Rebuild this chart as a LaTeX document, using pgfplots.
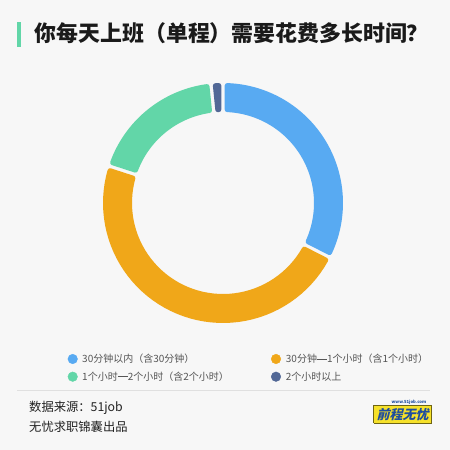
\documentclass[border=0pt]{standalone}
\usepackage{fontspec}
\setmainfont{Noto Sans CJK SC}
\newfontfamily\logofont{Noto Sans CJK SC}[FakeSlant=0.25]
\usepackage{pgfplots}
\pgfplotsset{compat=1.18}
\definecolor{bg}{HTML}{F7F7F7}
\definecolor{segA}{HTML}{58AAF2}
\definecolor{segB}{HTML}{F0A719}
\definecolor{segC}{HTML}{62D6A8}
\definecolor{segD}{HTML}{526896}
\definecolor{titlec}{HTML}{1A1A1A}
\definecolor{legc}{HTML}{555555}
\definecolor{footc}{HTML}{222222}
\definecolor{logoy}{HTML}{F6E12A}
\definecolor{logob}{HTML}{1F4E9E}
\newcommand\cjkdash{\makebox[1em][c]{\rule[0.33em]{0.98em}{0.07em}}}
% shares (percent)
\def\vA{32.5}
\def\vB{47.5}
\def\vC{18.4}
\def\vD{1.6}
\pgfmathsetmacro{\aA}{0}
\pgfmathsetmacro{\aB}{3.6*\vA}
\pgfmathsetmacro{\aC}{3.6*(\vA+\vB)}
\pgfmathsetmacro{\aD}{3.6*(\vA+\vB+\vC)}
\pgfmathsetmacro{\aE}{3.6*(\vA+\vB+\vC+\vD)}
\pgfplotsset{/pgf/declare function={
  segr(\t)=ifthenelse(and(\t>50,\t<102),93.5,117.5);
  segth(\t,\a,\b)=ifthenelse(\t>101,\a+2.05,ifthenelse(\t<=50,\a+2.05+(\b-\a-4.1)*\t/50,\b-2.57-(\b-\a-5.14)*(\t-51)/50));
}}
\newcommand\donutseg[3]{%
  \addplot[fill=#3,draw=#3,line width=5pt,line join=round,line cap=round,samples at={0,...,102}]
   ({223+segr(x)*sin(segth(x,#1,#2))},{247+segr(x)*cos(segth(x,#1,#2))});
}
\begin{document}
\begin{tikzpicture}
\begin{axis}[
  width=450pt,height=450pt,scale only axis,
  xmin=0,xmax=450,ymin=0,ymax=450,
  hide axis,clip=false,
]
\addplot[fill=bg,draw=none] coordinates {(0,0)(450,0)(450,450)(0,450)};
% donut
\donutseg{\aA}{\aB}{segA}
\donutseg{\aB}{\aC}{segB}
\donutseg{\aC}{\aD}{segC}
\donutseg{\aD}{\aE}{segD}
% title bar
\addplot[fill=segC,draw=none] coordinates {(17,403)(20.5,403)(20.5,428)(17,428)};
\node[anchor=base west,inner sep=0pt,text=titlec] at (axis cs:34.5,408.2)
  {\fontsize{21.9}{21.9}\selectfont\bfseries 你每天上班（单程）需要花费多长时间？};
% legend
\addplot[only marks,mark=*,mark size=4.8pt,color=segA] coordinates {(72.7,91)};
\addplot[only marks,mark=*,mark size=4.8pt,color=segB] coordinates {(276,91)};
\addplot[only marks,mark=*,mark size=4.8pt,color=segC] coordinates {(72.7,73.3)};
\addplot[only marks,mark=*,mark size=4.8pt,color=segD] coordinates {(276,73.3)};
\begin{scope}[every node/.style={anchor=base west,inner sep=0pt,text=legc,font=\fontsize{10}{10}\selectfont}]
\node at (axis cs:82,87.4) {30分钟以内（含30分钟）};
\node at (axis cs:285.7,87.4) {30分钟\cjkdash 1个小时（含1个小时）};
\node at (axis cs:82,69.7) {1个小时\cjkdash 2个小时（含2个小时）};
\node at (axis cs:285.7,69.7) {2个小时以上};
\end{scope}
% divider
\addplot[draw=black!12,line width=1pt] coordinates {(17,59.3)(430,59.3)};
% footer
\node[anchor=base west,inner sep=0pt,text=footc,font=\fontsize{12.3}{12.3}\selectfont] at (axis cs:29,38.9) {数据来源：51job};
\node[anchor=base west,inner sep=0pt,text=footc,font=\fontsize{12.3}{12.3}\selectfont] at (axis cs:29,18.9) {无忧求职锦囊出品};
% logo
\addplot[fill=logoy,draw=black!55!logoy,line width=0.6pt] coordinates {(373.5,27)(431.5,27)(431.5,44.5)(373.5,44.5)(373.5,27)};
\node[inner sep=0pt,text=logob] at (axis cs:402.5,35.5) {\logofont\fontsize{13}{13}\selectfont\bfseries 前程无忧};
\node[inner sep=0pt,text=logob] at (axis cs:409,48.2) {\fontsize{4.2}{4.2}\selectfont\bfseries www.51job.com};
\end{axis}
\end{tikzpicture}
\end{document}
